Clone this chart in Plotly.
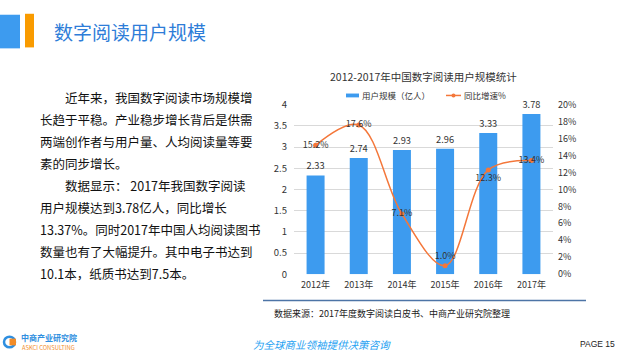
import plotly.graph_objects as go

# ---- data ----
years = ["2012年", "2013年", "2014年", "2015年", "2016年", "2017年"]
users = [2.33, 2.74, 2.93, 2.96, 3.33, 3.78]          # 用户规模（亿人）
growth = [15.2, 17.6, 7.1, 1.0, 12.3, 13.4]           # 同比增速%
growth_labels = ["15.2%", "17.6%", "7.1%", "1.0%", "12.3%", "13.4%"]

para_lines = [
    "近年来，我国数字阅读市场规模增",
    "长趋于平稳。产业稳步增长背后是供需",
    "两端创作者与用户量、人均阅读量等要",
    "素的同步增长。",
    "数据显示： 2017年我国数字阅读",
    "用户规模达到3.78亿人，同比增长",
    "13.37%。同时2017年中国人均阅读图书",
    "数量也有了大幅提升。其中电子书达到",
    "10.1本，纸质书达到7.5本。",
]

W, H = 625, 360
FONT = "Noto Sans CJK SC"
BAR_C = "#3D9BEF"
LINE_C = "#F4773A"


def px(x):
    return x / W


def py(y):
    return 1 - y / H


fig = go.Figure()

fig.add_trace(go.Bar(
    x=years, y=users, name="用户规模（亿人）",
    marker=dict(color=BAR_C, line=dict(width=0)),
    text=[f"{v:.2f}" for v in users], textposition="outside",
    textfont=dict(size=9.5, color="#333333", family=FONT),
    cliponaxis=False, yaxis="y", showlegend=False,
))

fig.add_trace(go.Scatter(
    x=years, y=growth, name="同比增速%", yaxis="y2",
    mode="lines+markers+text",
    line=dict(color=LINE_C, width=1.5, shape="spline", smoothing=1.0),
    marker=dict(color=LINE_C, size=5),
    text=growth_labels,
    textposition=["middle center", "middle center", "middle center",
                  "top center", "bottom center", "middle center"],
    textfont=dict(size=9, color="#333333", family=FONT),
    cliponaxis=False, showlegend=False,
))

x0, x1 = 294, 553
ytop, ybot = 100.5, 277

fig.update_layout(
    width=W, height=H,
    margin=dict(l=0, r=0, t=0, b=0),
    paper_bgcolor="white", plot_bgcolor="white",
    font=dict(family=FONT, color="#333333"),
    bargap=0.583,
    xaxis=dict(domain=[px(x0), px(x1)], range=[-0.5, 5.5],
               showline=False, showgrid=False, zeroline=False,
               ticks="", tickfont=dict(size=9, color="#333333"),
               ticklabelstandoff=4),
    yaxis=dict(domain=[py(ybot), py(ytop)], range=[0, 4], dtick=0.5,
               showgrid=True, gridcolor="#D9D9D9", gridwidth=1,
               zeroline=False, showline=False, ticks="",
               tickfont=dict(size=9.5, color="#333333"),
               ticklabelstandoff=6),
    yaxis2=dict(domain=[py(ybot), py(ytop)], range=[0, 20], dtick=2,
                overlaying="y", side="right", anchor="x",
                showgrid=False, zeroline=False, showline=False, ticks="",
                ticksuffix="%",
                tickfont=dict(size=9, color="#333333"),
                ticklabelstandoff=4),
)

shapes = []
annotations = []

# header decoration
shapes.append(dict(type="rect", xref="paper", yref="paper",
                   x0=px(0), x1=px(20), y0=py(42), y1=py(7),
                   fillcolor="#3D9BEF", line=dict(width=0)))
shapes.append(dict(type="rect", xref="paper", yref="paper",
                   x0=px(25), x1=px(34), y0=py(41), y1=py(6),
                   fillcolor="#F99B00", line=dict(width=0)))
annotations.append(dict(text="数字阅读用户规模", xref="paper", yref="paper",
                        x=px(52), y=py(24), xanchor="left", yanchor="middle",
                        showarrow=False,
                        font=dict(size=19, color="#2E7DD8", family=FONT)))

# chart title
annotations.append(dict(text="2012-2017年中国数字阅读用户规模统计",
                        xref="paper", yref="paper",
                        x=px(423), y=py(71.5), xanchor="center", yanchor="middle",
                        showarrow=False,
                        font=dict(size=10.5, color="#333333", family=FONT)))

# custom legend
shapes.append(dict(type="rect", xref="paper", yref="paper",
                   x0=px(346), x1=px(359), y0=py(93), y1=py(89),
                   fillcolor=BAR_C, line=dict(width=0)))
annotations.append(dict(text="用户规模（亿人）", xref="paper", yref="paper",
                        x=px(360), y=py(91), xanchor="left", yanchor="middle",
                        showarrow=False,
                        font=dict(size=8.5, color="#333333", family=FONT)))
shapes.append(dict(type="line", xref="paper", yref="paper",
                   x0=px(446), x1=px(461), y0=py(91), y1=py(91),
                   line=dict(color=LINE_C, width=1.5)))
shapes.append(dict(type="circle", xref="paper", yref="paper",
                   x0=px(451.5), x1=px(455.5), y0=py(93), y1=py(89),
                   fillcolor=LINE_C, line=dict(width=0)))
annotations.append(dict(text="同比增速%", xref="paper", yref="paper",
                        x=px(462), y=py(91), xanchor="left", yanchor="middle",
                        showarrow=False,
                        font=dict(size=8.5, color="#333333", family=FONT)))

# paragraph
para_x = [62.7, 38.3, 38.3, 38.3, 62.7, 38.3, 38.3, 38.3, 38.3]
for i, line in enumerate(para_lines):
    annotations.append(dict(text=line, xref="paper", yref="paper",
                            x=px(para_x[i]), y=py(92.7 + 23 * i),
                            xanchor="left", yanchor="middle", showarrow=False,
                            font=dict(size=12.5, color="#111111", family=FONT)))

# source line + text
shapes.append(dict(type="line", xref="paper", yref="paper",
                   x0=px(263), x1=px(586), y0=py(304.3), y1=py(304.3),
                   line=dict(color="#4D74A6", width=1.5)))
annotations.append(dict(text="数据来源：2017年度数字阅读白皮书、中商产业研究院整理",
                        xref="paper", yref="paper",
                        x=px(272), y=py(317.7), xanchor="left", yanchor="middle",
                        showarrow=False,
                        font=dict(size=9, color="#222222", family=FONT)))

# footer logo
shapes.append(dict(type="circle", xref="paper", yref="paper",
                   x0=px(4), x1=px(15), y0=py(353), y1=py(342),
                   fillcolor="white", line=dict(color="#2F8FE0", width=2.5)))
shapes.append(dict(type="rect", xref="paper", yref="paper",
                   x0=px(9.5), x1=px(16), y0=py(351), y1=py(344),
                   fillcolor="#F28C28", line=dict(width=0)))
annotations.append(dict(text="<b>中商产业研究院</b>", xref="paper", yref="paper",
                        x=px(20), y=py(342.5), xanchor="left", yanchor="middle",
                        showarrow=False, borderpad=0,
                        font=dict(size=8, color="#2F8FE0", family=FONT)))
annotations.append(dict(text="ASKCI CONSULTING", xref="paper", yref="paper",
                        x=px(20.5), y=py(353), xanchor="left", yanchor="middle",
                        showarrow=False, borderpad=0,
                        font=dict(size=5.8, color="#F28C28", family=FONT)))
annotations.append(dict(text="<i>为全球商业领袖提供决策咨询</i>", xref="paper", yref="paper",
                        x=px(322), y=py(350.5), xanchor="center", yanchor="middle",
                        showarrow=False, borderpad=0,
                        font=dict(size=10.5, color="#2AA3F2", family=FONT)))
annotations.append(dict(text="PAGE 15", xref="paper", yref="paper",
                        x=px(579), y=py(349.5), xanchor="left", yanchor="middle",
                        showarrow=False, borderpad=0,
                        font=dict(size=8.5, color="#222222", family="Liberation Sans")))

fig.update_layout(shapes=shapes, annotations=annotations)

fig.write_html(
    "out.html",
    config={"displayModeBar": False},
    post_script="document.body.style.margin='0';document.body.style.padding='0';"
                "document.body.style.overflow='hidden';",
)
